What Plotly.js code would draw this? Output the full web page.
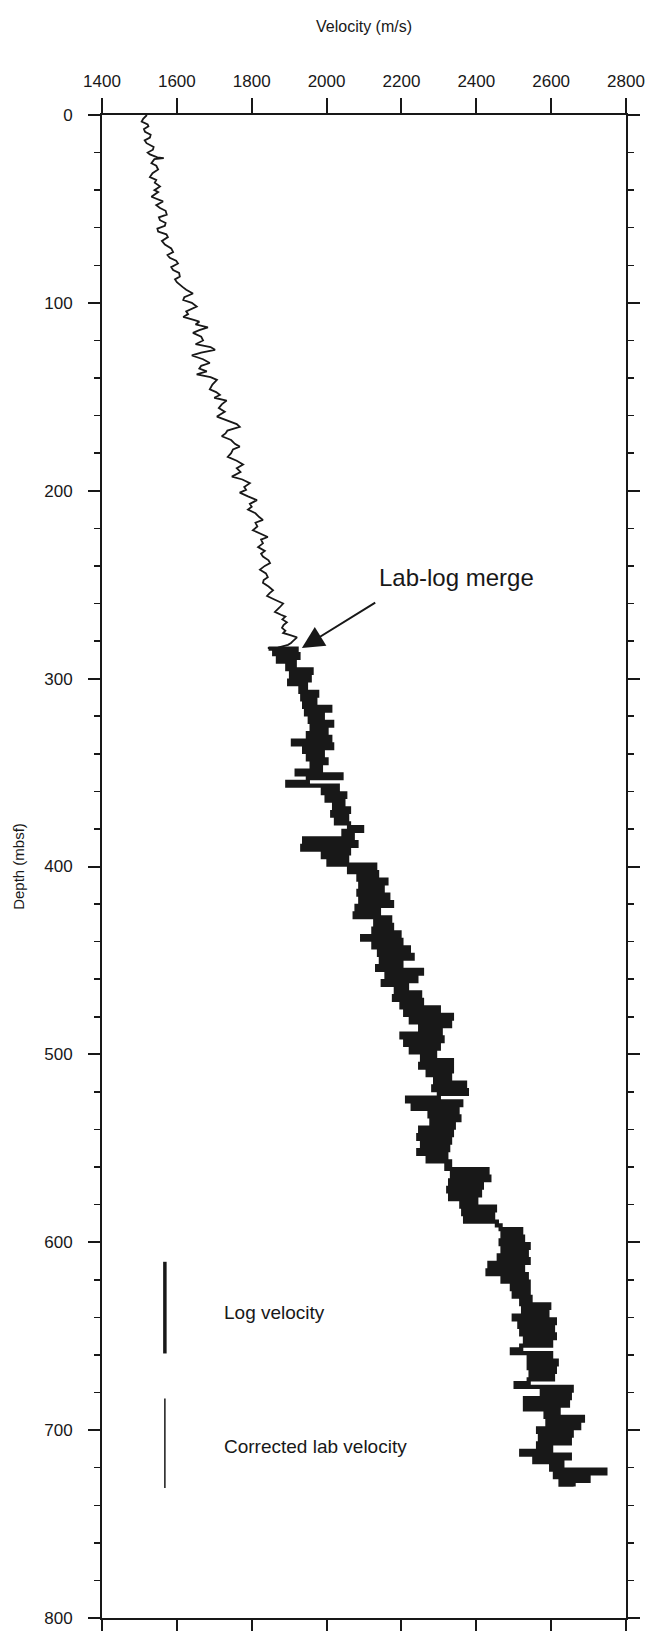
<!DOCTYPE html>
<html>
<head>
<meta charset="utf-8">
<script src="https://cdn.plot.ly/plotly-3.0.1.min.js"></script>
<style>
  html, body { margin: 0; padding: 0; background: #ffffff; }
  #chart { width: 647px; height: 1631px; }
</style>
</head>
<body>
<div id="chart"></div>
<script>
// ---- Data ----
const labDepth = [0, 2, 3.5, 5, 6, 7.5, 9, 10.5, 12, 13.5, 15, 17, 18.5, 20, 21, 22.5, 23, 23.5, 25.7, 27, 29, 31, 33, 34.5, 36, 38, 40, 41, 43.5, 45, 46, 48, 49.5, 51, 53, 54.5, 56, 57.5, 59, 60.5, 62, 63.5, 65, 67, 69, 71, 73, 74.5, 76, 77.5, 79, 81, 82.5, 84, 86, 87.5, 89, 91.5, 93, 95, 97, 98.5, 100, 102, 104.5, 106, 107.5, 109, 110, 111.5, 113, 114.5, 116, 118, 120, 122, 123.5, 125, 126.5, 128, 130, 132, 133.5, 135, 136.5, 138, 139.5, 141, 143.5, 146, 147.5, 149, 150.5, 152, 154, 156, 158, 160.5, 163, 164.5, 166, 168, 169.5, 171, 173, 175, 176.5, 178, 180, 182, 184, 186, 188, 190, 192.5, 194, 196, 198, 199.5, 201, 203, 205, 207, 208.5, 210, 212, 214, 215.5, 217, 219, 221, 223, 224.6, 226, 228, 230, 232, 233.5, 235, 237, 238.5, 240, 242, 244, 246, 247.5, 249, 251, 253, 254.5, 256, 258, 260, 262, 264.5, 266, 267, 268.5, 270, 271.5, 273, 274.5, 275.7, 277, 278, 280, 281, 282, 283.5, 283.7];
const labVelocity = [1520, 1510, 1506, 1522, 1524, 1512, 1515, 1530, 1528, 1514, 1519, 1538, 1536, 1522, 1528, 1548, 1565, 1540, 1532, 1545, 1550, 1535, 1528, 1545, 1541, 1555, 1540, 1550, 1532, 1552, 1563, 1545, 1555, 1570, 1573, 1552, 1555, 1570, 1568, 1548, 1550, 1572, 1576, 1560, 1568, 1585, 1590, 1575, 1581, 1598, 1603, 1585, 1590, 1606, 1608, 1595, 1600, 1615, 1625, 1643, 1620, 1617, 1640, 1653, 1625, 1630, 1617, 1645, 1660, 1650, 1683, 1660, 1643, 1665, 1670, 1650, 1690, 1702, 1665, 1640, 1670, 1688, 1665, 1660, 1680, 1653, 1690, 1707, 1695, 1688, 1705, 1715, 1700, 1733, 1720, 1712, 1728, 1707, 1740, 1760, 1768, 1735, 1730, 1720, 1745, 1755, 1768, 1750, 1745, 1736, 1760, 1777, 1760, 1770, 1747, 1775, 1795, 1780, 1785, 1768, 1790, 1814, 1795, 1800, 1790, 1810, 1820, 1830, 1810, 1815, 1803, 1825, 1843, 1825, 1830, 1817, 1835, 1825, 1830, 1845, 1849, 1835, 1822, 1838, 1843, 1832, 1830, 1845, 1857, 1848, 1841, 1862, 1884, 1875, 1862, 1878, 1890, 1882, 1894, 1885, 1881, 1890, 1884, 1905, 1921, 1910, 1905, 1897, 1870, 1843];

const logDepth = [284, 285, 287, 289, 291, 293, 295, 297, 299, 301, 303, 305, 307, 309, 311, 313, 315, 317, 319, 321, 323, 325, 327, 329, 331, 333, 335, 337, 339, 341, 343, 345, 347, 349, 351, 353, 355, 357, 359, 361, 363, 365, 367, 369, 371, 373, 375, 377, 379, 381, 383, 385, 387, 389, 391, 393, 395, 397, 399, 401, 403, 405, 407, 409, 411, 413, 415, 417, 419, 421, 423, 425, 427, 429, 431, 433, 435, 437, 439, 441, 443, 445, 447, 449, 451, 453, 455, 457, 459, 461, 463, 465, 467, 469, 471, 473, 475, 477, 479, 481, 483, 485, 487, 489, 491, 493, 495, 497, 499, 501, 503, 505, 507, 509, 511, 513, 515, 517, 519, 521, 523, 525, 527, 529, 531, 533, 535, 537, 539, 541, 543, 545, 547, 549, 551, 553, 555, 557, 559, 561, 563, 565, 567, 569, 571, 573, 575, 577, 579, 581, 583, 585, 587, 589, 591, 593, 595, 597, 599, 601, 603, 605, 607, 609, 611, 613, 615, 617, 619, 621, 623, 625, 627, 629, 631, 633, 635, 637, 639, 641, 643, 645, 647, 649, 651, 653, 655, 657, 659, 661, 663, 665, 667, 669, 671, 673, 675, 677, 679, 681, 683, 685, 687, 689, 691, 693, 695, 697, 699, 701, 703, 705, 707, 709, 711, 713, 715, 717, 719, 721, 723, 725, 727, 729, 730];
const logVelocity = [1845, 1920, 1860, 1925, 1870, 1915, 1895, 1960, 1905, 1955, 1900, 1945, 1930, 1975, 1935, 1970, 1940, 2010, 1945, 1990, 1955, 2015, 1960, 2000, 1950, 2010, 1910, 2015, 1940, 1990, 1950, 2000, 1960, 1985, 1920, 2040, 1950, 1895, 2030, 1990, 2050, 2000, 2045, 2020, 2060, 2015, 2055, 2025, 2060, 2095, 2045, 2070, 1940, 2080, 1935, 2060, 1990, 2055, 2005, 2130, 2060, 2135, 2085, 2160, 2090, 2150, 2085, 2165, 2090, 2175, 2080, 2140, 2075, 2170, 2130, 2175, 2125, 2195, 2095, 2200, 2125, 2220, 2140, 2230, 2145, 2200, 2135, 2255, 2160, 2240, 2150, 2215, 2185, 2250, 2180, 2255, 2200, 2300, 2210, 2335, 2225, 2330, 2250, 2305, 2200, 2310, 2210, 2300, 2225, 2290, 2255, 2335, 2250, 2335, 2270, 2330, 2290, 2370, 2285, 2375, 2300, 2215, 2360, 2230, 2350, 2275, 2355, 2280, 2340, 2250, 2335, 2245, 2330, 2255, 2325, 2245, 2320, 2270, 2330, 2320, 2430, 2335, 2435, 2330, 2415, 2325, 2410, 2330, 2400, 2360, 2450, 2365, 2445, 2370, 2455, 2465, 2520, 2470, 2525, 2465, 2540, 2470, 2535, 2460, 2540, 2435, 2525, 2430, 2535, 2470, 2540, 2495, 2540, 2500, 2545, 2520, 2595, 2525, 2590, 2500, 2610, 2515, 2605, 2520, 2610, 2530, 2600, 2520, 2495, 2600, 2540, 2615, 2540, 2610, 2545, 2605, 2540, 2505, 2655, 2575, 2650, 2530, 2645, 2530, 2620, 2585, 2685, 2590, 2675, 2565, 2655, 2570, 2650, 2565, 2600, 2520, 2650, 2555, 2630, 2600, 2745, 2610, 2700, 2625, 2660];

const velocityTicks = [1400, 1600, 1800, 2000, 2200, 2400, 2600, 2800];
const depthTicks = [0, 100, 200, 300, 400, 500, 600, 700, 800];
const legendLabels = ["Log velocity", "Corrected lab velocity"];
const mergeLabel = "Lab-log merge";
const mergeArrow = {tailVelocity: 2134, tailDepth: 259, tipVelocity: 1934, tipDepth: 283.7, labelDepth: 246};

// ---- Styling ----
const INK = '#181818';
const FONT = 'Liberation Sans, Arial, Helvetica, sans-serif';

const traces = [
  {
    x: labVelocity, y: labDepth,
    type: 'scatter', mode: 'lines',
    name: legendLabels[1],
    line: {color: INK, width: 1.8},
    hoverinfo: 'x+y'
  },
  {
    x: logVelocity, y: logDepth,
    type: 'scatter', mode: 'lines',
    name: legendLabels[0],
    line: {color: INK, width: 4.2, shape: 'hv'},
    hoverinfo: 'x+y'
  }
];

const layout = {
  width: 647, height: 1631,
  margin: {l: 102, r: 21, t: 115, b: 13, pad: 0},
  paper_bgcolor: '#ffffff', plot_bgcolor: '#ffffff',
  showlegend: false,
  font: {family: FONT, color: INK, size: 17},
  xaxis: {
    side: 'top',
    range: [1400, 2800],
    tickmode: 'array', tickvals: velocityTicks, ticktext: velocityTicks.map(String),
    ticks: 'outside', ticklen: 15, tickwidth: 2, tickcolor: INK,
    showline: true, linewidth: 2, linecolor: INK, mirror: 'ticks',
    showgrid: false, zeroline: false,
    tickfont: {family: FONT, size: 17, color: INK},
    ticklabelstandoff: 4,
    title: {text: 'Velocity (m/s)', font: {family: FONT, size: 16, color: INK}, standoff: 36}
  },
  yaxis: {
    range: [800, 0],
    tickmode: 'array', tickvals: depthTicks, ticktext: depthTicks.map(String),
    ticks: 'outside', ticklen: 12, tickwidth: 2, tickcolor: INK,
    minor: {dtick: 20, tick0: 0, ticks: 'outside', ticklen: 6, tickwidth: 1.5, tickcolor: INK, showgrid: false},
    showline: true, linewidth: 2, linecolor: INK, mirror: 'ticks',
    showgrid: false, zeroline: false,
    tickfont: {family: FONT, size: 17, color: INK},
    ticklabelstandoff: 12,
    title: {text: 'Depth (mbsf)', font: {family: FONT, size: 15, color: INK}, standoff: 16}
  },
  shapes: [
    {type: 'line', xref: 'paper', yref: 'paper', x0: 0.12, x1: 0.12, y0: 0.237, y1: 0.176, line: {color: INK, width: 3.5}},
    {type: 'line', xref: 'paper', yref: 'paper', x0: 0.12, x1: 0.12, y0: 0.146, y1: 0.0865, line: {color: INK, width: 1.5}}
  ],
  annotations: [
    {xref: 'paper', yref: 'paper', x: 0.229, y: 0.203, xanchor: 'left', yanchor: 'middle', showarrow: false,
     text: legendLabels[0], font: {family: FONT, size: 19, color: INK}},
    {xref: 'paper', yref: 'paper', x: 0.229, y: 0.114, xanchor: 'left', yanchor: 'middle', showarrow: false,
     text: legendLabels[1], font: {family: FONT, size: 19, color: INK}},
    {xref: 'x', yref: 'y', x: mergeArrow.tailVelocity, y: mergeArrow.labelDepth, xanchor: 'left', yanchor: 'middle', showarrow: false,
     text: mergeLabel, font: {family: FONT, size: 24, color: INK}},
    {xref: 'x', yref: 'y', axref: 'x', ayref: 'y',
     x: mergeArrow.tipVelocity, y: mergeArrow.tipDepth,
     ax: mergeArrow.tailVelocity, ay: mergeArrow.tailDepth,
     text: '', showarrow: true, arrowhead: 2, arrowsize: 2.2, arrowwidth: 2, arrowcolor: INK, standoff: 0}
  ]
};

Plotly.newPlot('chart', traces, layout, {staticPlot: true, displayModeBar: false});
</script>
</body>
</html>
